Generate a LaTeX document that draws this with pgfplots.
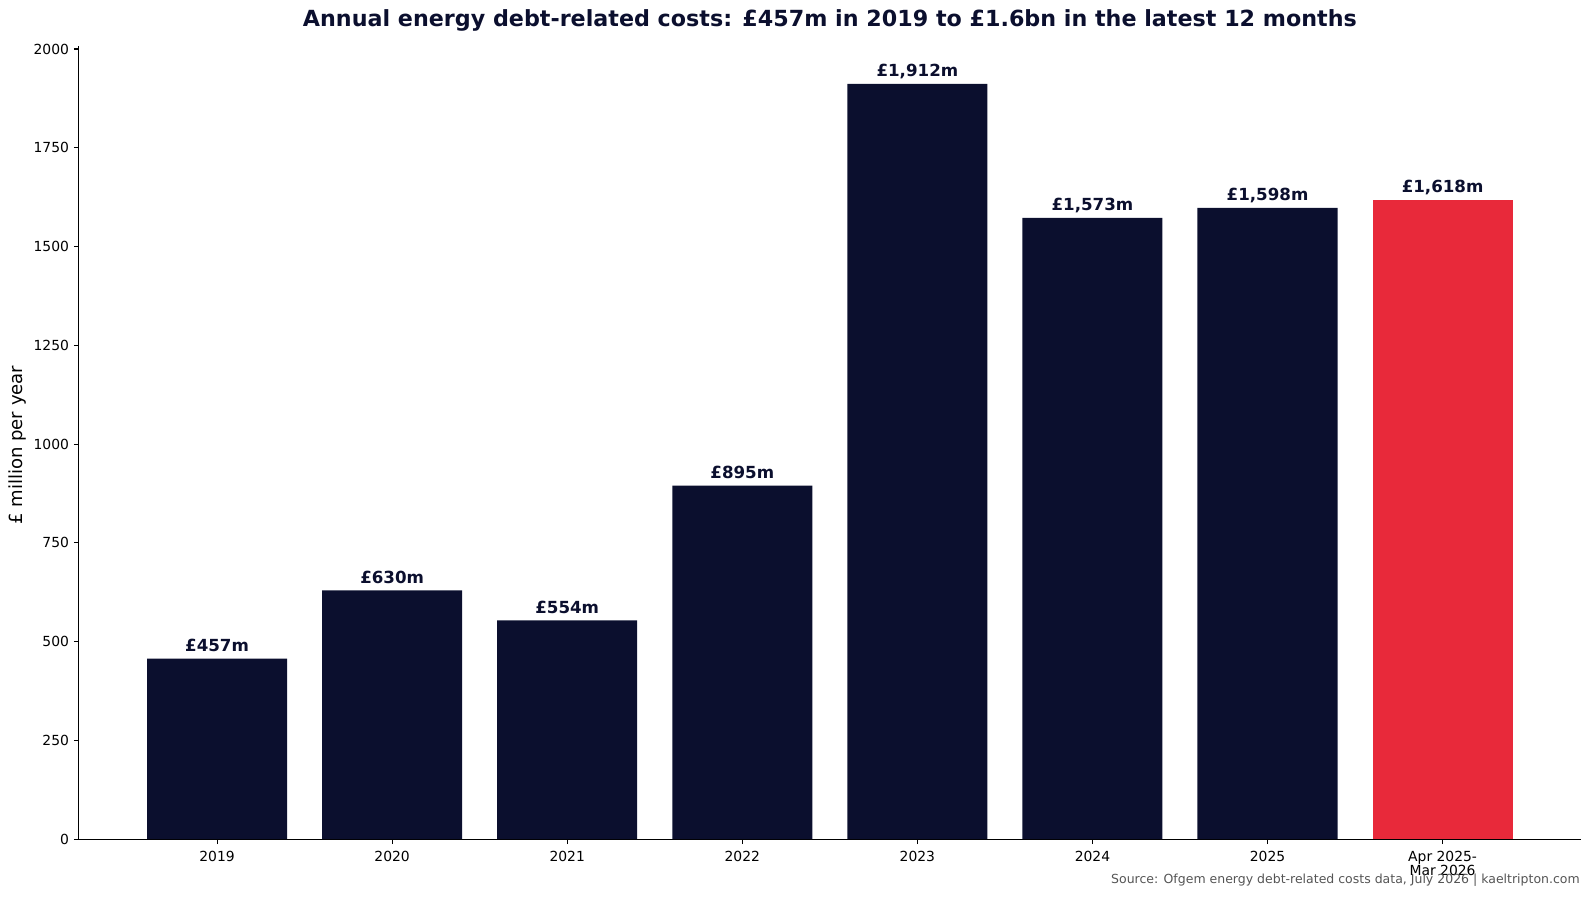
\documentclass[border=0pt]{standalone}
\usepackage{pgfplots}
\pgfplotsset{compat=1.18}
\usepackage{fontspec}
\setmainfont{DejaVu Sans}
\definecolor{navy}{RGB}{11,15,46}
\definecolor{barred}{RGB}{232,41,58}
\definecolor{srcgrey}{RGB}{85,85,85}
\begin{document}
\begin{tikzpicture}
\path[use as bounding box] (0,0) rectangle (1144.8pt,646.56pt);
\begin{axis}[
  at={(56.7pt,42.3pt)}, anchor=south west, scale only axis,
  width=1081.6pt, height=571.1pt,
  xmin=-0.79, xmax=7.79, ymin=0, ymax=2007.6,
  axis x line*=bottom, axis y line*=left,
  axis line style={-, line width=0.8pt, black},
  tick align=outside, major tick length=3.5pt,
  tick style={line width=0.8pt, black},
  xtick={0,...,7},
  xticklabels={2019,2020,2021,2022,2023,2024,2025,{Apr 2025-\\Mar 2026}},
  xticklabel style={align=center, font=\fontsize{10}{10.4}\selectfont, text=black, yshift=-1.5pt},
  ytick={0,250,...,2000},
  yticklabel style={font=\fontsize{10}{12}\selectfont, /pgf/number format/1000 sep={}},
  /pgf/number format/assume math mode=true,
  clip=false,
]
\addplot[ybar, bar width=0.8, bar shift=0pt, fill=navy, draw=none,
  nodes near coords={£\pgfmathprintnumber[1000 sep={,}]{\pgfplotspointmeta}m},
  nodes near coords style={font=\bfseries\fontsize{12}{14}\selectfont, text=navy, anchor=base, inner sep=0pt, yshift=5.2pt}]
  coordinates {(0,457)(1,630)(2,554)(3,895)(4,1912)(5,1573)(6,1598)};
\addplot[ybar, bar width=0.8, bar shift=0pt, fill=barred, draw=none,
  nodes near coords={£\pgfmathprintnumber[1000 sep={,}]{\pgfplotspointmeta}m},
  nodes near coords style={font=\bfseries\fontsize{12}{14}\selectfont, text=navy, anchor=base, inner sep=0pt, yshift=5.2pt}]
  coordinates {(7,1618)};
\end{axis}
\node[font=\bfseries\fontsize{16}{19}\selectfont, text=navy] at (597.5pt,631.8pt) {Annual energy debt-related costs: £457m in 2019 to £1.6bn in the latest 12 months};
\node[rotate=90, font=\fontsize{13}{15}\selectfont, text=black] at (12.4pt,326pt) {£ million per year};
\node[anchor=east, font=\fontsize{9}{11}\selectfont, text=srcgrey, inner sep=0pt] at (1137.6pt,13pt) {Source: Ofgem energy debt-related costs data, July 2026 | kaeltripton.com};
\end{tikzpicture}
\end{document}
